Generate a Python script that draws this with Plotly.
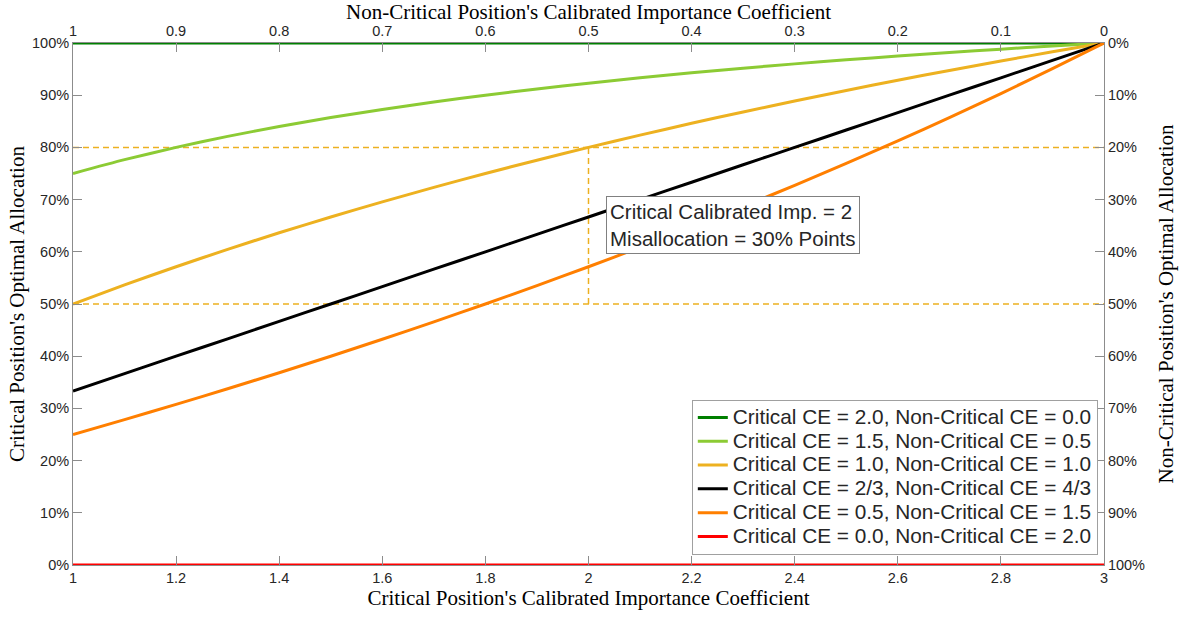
import plotly.graph_objects as go

# Critical position's calibrated importance coefficient (bottom axis)
crit_coef = [1.0, 1.1, 1.2, 1.3, 1.4, 1.5, 1.6, 1.7, 1.8, 1.9, 2.0,
             2.1, 2.2, 2.3, 2.4, 2.5, 2.6, 2.7, 2.8, 2.9, 3.0]

# Optimal allocation to the critical position (%), one list per CE pair
alloc_20_00 = [100.0] * 21
alloc_15_05 = [75.0, 77.65, 80.0, 82.11, 84.0, 85.71, 87.27, 88.70, 90.0, 91.2, 92.31,
               93.33, 94.29, 95.17, 96.0, 96.77, 97.5, 98.18, 98.82, 99.43, 100.0]
alloc_10_10 = [50.0, 53.66, 57.14, 60.47, 63.64, 66.67, 69.57, 72.34, 75.0, 77.55, 80.0,
               82.35, 84.62, 86.79, 88.89, 90.91, 92.86, 94.74, 96.55, 98.31, 100.0]
alloc_23_43 = [33.33, 36.67, 40.0, 43.33, 46.67, 50.0, 53.33, 56.67, 60.0, 63.33, 66.67,
               70.0, 73.33, 76.67, 80.0, 83.33, 86.67, 90.0, 93.33, 96.67, 100.0]
alloc_05_15 = [25.0, 27.85, 30.77, 33.77, 36.84, 40.0, 43.24, 46.58, 50.0, 53.52, 57.14,
               60.87, 64.71, 68.66, 72.73, 76.92, 81.25, 85.71, 90.32, 95.08, 100.0]
alloc_00_20 = [0.0] * 21

series_names = [
    "Critical CE = 2.0, Non-Critical CE = 0.0",
    "Critical CE = 1.5, Non-Critical CE = 0.5",
    "Critical CE = 1.0, Non-Critical CE = 1.0",
    "Critical CE = 2/3, Non-Critical CE = 4/3",
    "Critical CE = 0.5, Non-Critical CE = 1.5",
    "Critical CE = 0.0, Non-Critical CE = 2.0",
]
series_values = [alloc_20_00, alloc_15_05, alloc_10_10, alloc_23_43, alloc_05_15, alloc_00_20]
series_colors = ["#007F00", "#8CCB34", "#EDB120", "#000000", "#FF7F00", "#FF0000"]

# Highlighted case: critical importance 2, allocations 80% vs 50%
mark_x = 2.0
mark_hi = 80.0
mark_lo = 50.0
note_text = "Critical Calibrated Imp. = 2<br>Misallocation = 30% Points"

# Axis ticks
bottom_ticks = [1.0, 1.2, 1.4, 1.6, 1.8, 2.0, 2.2, 2.4, 2.6, 2.8, 3.0]
bottom_labels = ["1", "1.2", "1.4", "1.6", "1.8", "2", "2.2", "2.4", "2.6", "2.8", "3"]
top_ticks = [1.0, 0.9, 0.8, 0.7, 0.6, 0.5, 0.4, 0.3, 0.2, 0.1, 0.0]
top_labels = ["1", "0.9", "0.8", "0.7", "0.6", "0.5", "0.4", "0.3", "0.2", "0.1", "0"]
pct_ticks = [0, 10, 20, 30, 40, 50, 60, 70, 80, 90, 100]
pct_labels = [f"{v}%" for v in pct_ticks]

SANS = "Liberation Sans, Arial, sans-serif"
SERIF = "Liberation Serif, Times New Roman, serif"
TICK_FONT = dict(family=SANS, size=14.5, color="#262626")
TITLE_FONT = dict(family=SERIF, size=21, color="#000000")
DASH_COLOR = "#EDB120"
DASH = dict(color=DASH_COLOR, width=1.5, dash="6px,4px")

fig = go.Figure()

# Dashed guide lines
fig.add_trace(go.Scatter(x=[crit_coef[0], crit_coef[-1]], y=[mark_hi, mark_hi], mode="lines",
                         line=DASH, showlegend=False, hoverinfo="skip"))
fig.add_trace(go.Scatter(x=[crit_coef[0], crit_coef[-1]], y=[mark_lo, mark_lo], mode="lines",
                         line=DASH, showlegend=False, hoverinfo="skip"))
fig.add_trace(go.Scatter(x=[mark_x, mark_x], y=[mark_lo, mark_hi], mode="lines",
                         line=DASH, showlegend=False, hoverinfo="skip"))

# Legend rows are kept compact; the entry text itself is set larger
for name, vals, col in zip(series_names, series_values, series_colors):
    fig.add_trace(go.Scatter(x=crit_coef, y=vals, mode="lines",
                             name=f'<span style="font-size:20.8px">{name}</span>',
                             line=dict(color=col, width=3, shape="spline", smoothing=0.6)))

# Invisible traces anchoring the secondary (top / right) axes
fig.add_trace(go.Scatter(x=[top_ticks[0], top_ticks[-1]], y=[None, None], xaxis="x2", yaxis="y",
                         showlegend=False, hoverinfo="skip", mode="lines"))
fig.add_trace(go.Scatter(x=[None, None], y=[0, 100], xaxis="x", yaxis="y2",
                         showlegend=False, hoverinfo="skip", mode="lines"))

fig.add_annotation(x=2.034, y=65.2, xref="x", yref="y", text=note_text, showarrow=False,
                   xanchor="left", yanchor="middle", align="left",
                   font=dict(family=SANS, size=20.5, color="#262626"),
                   bgcolor="#FFFFFF", bordercolor="#808080", borderwidth=1, borderpad=3)

# Title of the top axis, placed just above its tick labels
fig.add_annotation(x=0.5, y=1.0, xref="paper", yref="paper", yanchor="bottom", yshift=17,
                   text="Non-Critical Position's Calibrated Importance Coefficient",
                   showarrow=False, font=TITLE_FONT)

axis_common = dict(showgrid=False, zeroline=False, showline=True, linecolor="#8c8c8c",
                   linewidth=1, ticks="inside", ticklen=9, tickcolor="#8c8c8c",
                   tickfont=TICK_FONT, mirror=False, automargin=False)

fig.update_layout(
    width=1180, height=619,
    margin=dict(l=73, r=76, t=43, b=54),
    paper_bgcolor="#FFFFFF", plot_bgcolor="#FFFFFF",
    xaxis=dict(range=[1, 3], tickvals=bottom_ticks, ticktext=bottom_labels,
               title=dict(text="Critical Position's Calibrated Importance Coefficient",
                          font=TITLE_FONT, standoff=4),
               **axis_common),
    xaxis2=dict(range=[1, 0], overlaying="x", side="top", tickvals=top_ticks, ticktext=top_labels,
                **axis_common),
    yaxis=dict(range=[0, 100], tickvals=pct_ticks, ticktext=pct_labels,
               title=dict(text="Critical Position's Optimal Allocation", font=TITLE_FONT, standoff=1),
               **axis_common),
    yaxis2=dict(range=[100, 0], overlaying="y", side="right", tickvals=pct_ticks, ticktext=pct_labels,
                title=dict(text="Non-Critical Position's Optimal Allocation", font=TITLE_FONT, standoff=14),
                **axis_common),
    legend=dict(x=0.994, y=0.02, xanchor="right", yanchor="bottom",
                bgcolor="#FFFFFF", bordercolor="#a0a0a0", borderwidth=1,
                font=dict(family=SANS, size=16, color="#262626"),
                tracegroupgap=0, itemwidth=30),
    showlegend=True,
)

fig.write_html("out.html")
